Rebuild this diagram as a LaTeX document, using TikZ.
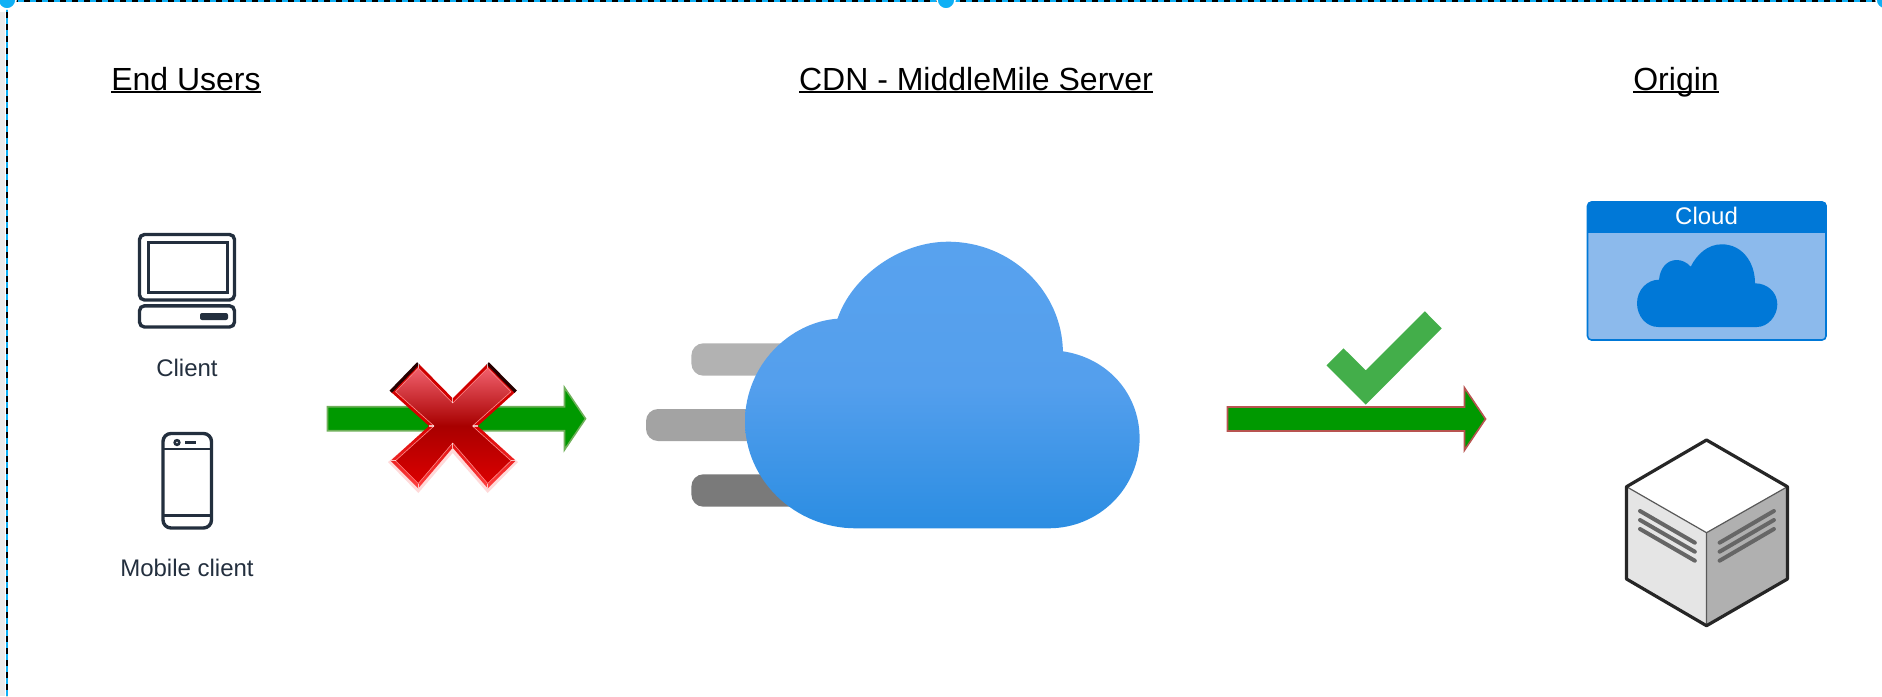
\documentclass[tikz,border=0pt]{standalone}
\usepackage{fontspec}
\setmainfont{Liberation Sans}
\usepackage{tikz}
\usetikzlibrary{shapes.arrows}
\usetikzlibrary{positioning}
\definecolor{inkclient}{HTML}{232F3E}
\definecolor{azureblue}{HTML}{0078D7}
\definecolor{azurelight}{HTML}{8CBAEC}
\definecolor{arrowgreen}{HTML}{009900}
\definecolor{edgegreen}{HTML}{6FB05A}
\definecolor{edgered}{HTML}{B85450}
\definecolor{checkgreen}{HTML}{43AE4A}
\definecolor{handleblue}{HTML}{0FB0F5}
\definecolor{cloudtop}{HTML}{58A2EE}
\definecolor{cloudmid}{HTML}{549FED}
\definecolor{cloudbottom}{HTML}{2B8DE2}
\definecolor{crosstop}{HTML}{F0606C}
\definecolor{crossmid}{HTML}{A80000}
\definecolor{crossbottom}{HTML}{DC0000}
\newcommand{\ultext}[1]{\setbox0=\hbox{#1}\rlap{\rule[-1.6pt]{\wd0}{0.9pt}}#1}
\tikzstyle{titre}=[inner sep=0pt,anchor=base,font=\fontsize{16}{19}\selectfont,text=black]
\tikzstyle{etiquette}=[inner sep=0pt,anchor=base,font=\fontsize{12}{14}\selectfont,text=inkclient]
\tikzstyle{icone}=[draw=inkclient,line width=1.7pt,rounded corners=2.5pt]
\tikzstyle{flux}=[
        single arrow,
        draw,
        fill=arrowgreen,
        line width=0.8pt,
        inner sep=5.6pt,
        outer sep=0pt,
        anchor=west,
        minimum height=129pt,
        single arrow head extend=9.6pt,
        single arrow tip angle=112,
        single arrow head indent=0pt
]
\tikzstyle{barre}=[rounded corners=6pt]
\tikzstyle{evente}=[line width=2pt,draw=black!60,line cap=round]
\tikzstyle{poignee}=[fill=handleblue,draw=white,line width=0.8pt]
\begin{document}
\begin{tikzpicture}[x=0.5pt,y=-0.5pt]
\useasboundingbox (0,0) rectangle (1882,696);
%selection frame
\fill[black!8] (0,12) rectangle (5,696);
\draw[handleblue,line width=1.3pt] (0,1) -- (1882,1);
\draw[black,line width=1.3pt,dash pattern=on 3pt off 3pt] (0,1) -- (1882,1);
\draw[handleblue,line width=1.1pt] (7,0) -- (7,696);
\draw[black,line width=1.1pt,dash pattern=on 3pt off 3pt] (7,0) -- (7,696);
\path[poignee] (7,0) circle (9);
\path[poignee] (946,0) circle (9);
\path[poignee] (1885,0) circle (9);
%titles
\node[titre] (users) at (186,90) {\ultext{End Users}};
\node[titre] (cdn) at (976,90) {\ultext{CDN - MiddleMile Server}};
\node[titre] (origin) at (1676,90) {\ultext{Origin}};
%laptop
\draw[icone] (139.5,234.5) rectangle (234.5,300);
\draw[draw=inkclient,line width=1.5pt] (148,242) rectangle (227,292);
\draw[icone] (139.5,305.8) rectangle (234.5,327);
\fill[inkclient,rounded corners=1pt] (200,313) rectangle (228,320);
\node[etiquette] (client) at (187,376.4) {Client};
%phone
\draw[icone,rounded corners=4pt] (163,433.5) rectangle (211.5,528);
\draw[draw=inkclient,line width=1.4pt] (163,449) -- (211.5,449);
\draw[draw=inkclient,line width=1.4pt] (163,515.8) -- (211.5,515.8);
\draw[draw=inkclient,line width=1.3pt] (177,442.5) circle (2.3);
\draw[draw=inkclient,line width=1.5pt] (185,442.5) -- (196,442.5);
\node[etiquette] (mobile) at (187,576) {Mobile client};
%arrows
\node[flux,draw=edgegreen] (fluxko) at (327.5,418.7) {};
\node[flux,draw=edgered] (fluxok) at (1227.5,419) {};
%red cross
\coordinate (xa) at (418.3,363.3);
\coordinate (xb) at (452.7,398.3);
\coordinate (xc) at (487.7,363.3);
\coordinate (xd) at (515.7,391.7);
\coordinate (xe) at (477.7,426);
\coordinate (xf) at (515.7,460.7);
\coordinate (xg) at (487.7,488.3);
\coordinate (xh) at (452.7,447.7);
\coordinate (xi) at (418.3,488.3);
\coordinate (xj) at (390.7,460.7);
\coordinate (xk) at (429,426);
\coordinate (xl) at (390.7,391.7);
\fill[red,opacity=0.15] (388,462) -- (418.3,493) -- (452.7,453) -- (487.7,493) -- (518,462) -- (480,430) -- (426,430) -- cycle;
\shade[top color=red!80!black,bottom color=red!75!white,middle color=red!85!black] (xa) -- (xb) -- (xc) -- (xd) -- (xe) -- (xf) -- (xg) -- (xh) -- (xi) -- (xj) -- (xk) -- (xl) -- cycle;
\draw[black!85!red,line width=1.6pt] (xl) -- (xa) (xc) -- (xd);
\shadedraw[draw=red!45!white,line width=0.3pt,top color=crosstop,bottom color=crossbottom,middle color=crossmid]
  (418.3,368) -- (452.7,403) -- (487.7,368) -- (511,391.7) -- (472.5,426) -- (511,460.7) -- (487.7,483.5) -- (452.7,443) -- (418.3,483.5) -- (395.5,460.7) -- (434,426) -- (395.5,391.7) -- cycle;
\draw[white,opacity=0.7,line width=0.6pt] (xf) -- (511,460.7) (xg) -- (487.7,483.5) (xi) -- (418.3,483.5) (xj) -- (395.5,460.7) (xa) -- (418.3,368) (xc) -- (487.7,368) (xb) -- (452.7,403) (xh) -- (452.7,443) (xe) -- (472.5,426) (xk) -- (434,426);
%check mark
\fill[checkgreen] (1424.8,311.3) -- (1441.7,328.3) -- (1365.7,404.7) -- (1326.5,365.3) -- (1343.5,348.3) -- (1365.7,370.3) -- cycle;
%cdn cloud
\fill[barre,fill=black!30] (691.4,343.3) rectangle (840,375.7);
\fill[barre,fill=black!36] (646,409) rectangle (800,441);
\fill[barre,fill=black!52] (691.4,474.3) rectangle (840,506.7);
\shade[top color=cloudtop,bottom color=cloudbottom,middle color=cloudmid]
  (855.7,528.3) .. controls (795,528.3) and (745,480) .. (745,421.7)
  .. controls (745,365) and (790,322) .. (837.5,318.7)
  .. controls (852,276) and (900,241.7) .. (947.9,241.7)
  .. controls (1012,241.7) and (1062,292) .. (1062.9,351.3)
  .. controls (1108,358) and (1139.6,394) .. (1139.6,438.3)
  .. controls (1139.6,488) and (1099,528.3) .. (1048.6,528.3) -- cycle;
%azure box
\draw[azureblue,fill=azurelight,line width=0.8pt,rounded corners=2pt] (1587.5,202) rectangle (1826,340);
\fill[azureblue,rounded corners=2pt] (1587.5,201.5) rectangle (1826.5,225);
\fill[azureblue] (1587.5,215) rectangle (1826.5,232.7);
\node[inner sep=0pt,anchor=base,text=white,font=\fontsize{12}{14}\selectfont] (cloud) at (1706.5,224) {Cloud};
\fill[azureblue] (1658.3,327) .. controls (1646,327) and (1637,316) .. (1637,303.3)
  .. controls (1637,290) and (1647,279.7) .. (1659,279.7)
  .. controls (1660,268) and (1667,260) .. (1676.7,260)
  .. controls (1682,260) and (1687,262.5) .. (1690.7,266.7)
  .. controls (1697,254) and (1708,244.3) .. (1721.7,244.3)
  .. controls (1742,244.3) and (1755,262) .. (1755,283.3)
  .. controls (1767,283.3) and (1777.3,292) .. (1777.3,304.3)
  .. controls (1777.3,316) and (1768,327) .. (1756.7,327) -- cycle;
%server
\fill[white] (1706.5,440) -- (1787.4,486.7) -- (1706.5,532.7) -- (1626.5,486.7) -- cycle;
\fill[black!10] (1626.5,486.7) -- (1706.5,532.7) -- (1706.5,625.7) -- (1626.5,579) -- cycle;
\fill[black!31] (1787.4,486.7) -- (1706.5,532.7) -- (1706.5,625.7) -- (1787.4,579) -- cycle;
\draw[black!65,line width=0.6pt] (1626.5,486.7) -- (1706.5,532.7) -- (1787.4,486.7) (1706.5,532.7) -- (1706.5,625.7);
\foreach \dy in {0,9,18}{
  \draw[evente] (1640,511+\dy) -- (1694.8,542.7+\dy);
  \draw[evente] (1773.9,511+\dy) -- (1719.6,542.7+\dy);
}
\draw[black!85,line width=1.6pt,line join=round] (1706.5,440) -- (1787.4,486.7) -- (1787.4,579) -- (1706.5,625.7) -- (1626.5,579) -- (1626.5,486.7) -- cycle;
\end{tikzpicture}
\end{document}
